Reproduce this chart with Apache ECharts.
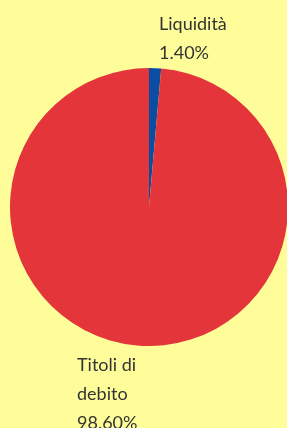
<!DOCTYPE html>
<html>
<head>
<meta charset="utf-8">
<script src="https://cdn.jsdelivr.net/npm/echarts@6/dist/echarts.min.js"></script>
<style>
	html, body { margin: 0; padding: 0; background: #FFFD99; }
	#chart { width: 287px; height: 428px; }
</style>
</head>
<body>
<div id="chart"></div>
<script>
// Slice data
const sliceNames = ['Liquidità', 'Titoli di debito'];
const sliceValues = [1.4, 98.6];
const sliceColors = ['#0B4DA2', '#E4353B'];

// Pie geometry
const cx = 149, cy = 207, radius = 139;

const chart = echarts.init(document.getElementById('chart'));

chart.setOption({
	backgroundColor: '#FFFD99',
	animation: false,
	series: [{
		type: 'pie',
		center: [cx, cy],
		radius: [0, radius],
		startAngle: 90,
		clockwise: true,
		data: sliceNames.map((n, i) => ({
			name: n,
			value: sliceValues[i],
			itemStyle: { color: sliceColors[i] }
		})),
		label: {
			show: true,
			formatter: p => p.name + '\n' + p.percent.toFixed(2) + '%',
			fontFamily: 'Lato',
			fontSize: 18,
			color: '#333333',
			lineHeight: 29,
			width: 80,
			overflow: 'break',
			align: 'left'
		},
		labelLine: { show: false },
		// place labels like the original (left aligned blocks above / below the pie)
		labelLayout: params => {
			if (params.dataIndex === 0) {
				return { x: cx + 10, y: cy - radius - 29, align: 'left', verticalAlign: 'middle' };
			}
			return { x: cx - 72, y: cy + radius + 48, align: 'left', verticalAlign: 'middle' };
		}
	}]
});
</script>
</body>
</html>
